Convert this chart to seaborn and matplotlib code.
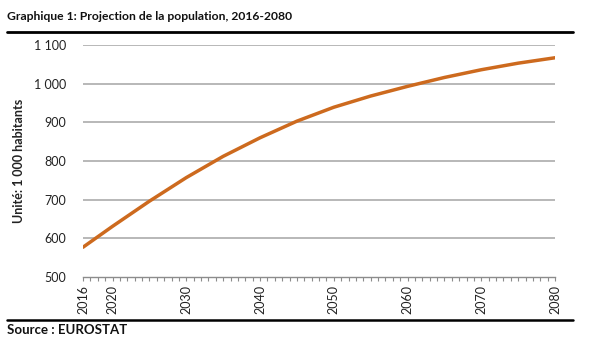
import matplotlib
matplotlib.use("Agg")
import matplotlib.pyplot as plt
import seaborn as sns
import pandas as pd
from matplotlib.lines import Line2D
from matplotlib.ticker import FuncFormatter, MultipleLocator

years = [2016, 2020, 2025, 2030, 2035, 2040, 2045, 2050, 2055, 2060, 2065, 2070, 2075, 2080]
population = [577, 631, 696, 757, 812, 860, 903, 939, 968, 993, 1016, 1036, 1053, 1067]
xtick_years = [2016, 2020, 2030, 2040, 2050, 2060, 2070, 2080]
yticks = [500, 600, 700, 800, 900, 1000, 1100]

title = "Graphique 1: Projection de la population, 2016-2080"
ylabel = "Unité: 1 000 habitants"
source = "Source : EUROSTAT"

sns.set_style("white")
plt.rcParams['font.family'] = ['Lato', 'DejaVu Sans']

df = pd.DataFrame({"year": years, "pop": population})

fig = plt.figure(figsize=(6.0, 3.54), dpi=100)
ax = fig.add_axes([83/600, 1-277/354, (555-83)/600, (277-45)/354])

for y in yticks[1:]:
    ax.axhline(y, color="#ababab", lw=1.2, zorder=1)

sns.lineplot(data=df, x="year", y="pop", ax=ax, color="#cd6a1e", lw=2.5, zorder=3)

ax.set_xlim(2016, 2080)
ax.set_ylim(500, 1100)
ax.set_yticks(yticks)
ax.yaxis.set_major_formatter(FuncFormatter(lambda v, p: f"{int(v):,}".replace(",", " ")))
ax.set_xticks(xtick_years)
ax.set_xticklabels([str(y) for y in xtick_years], rotation=90)
ax.xaxis.set_minor_locator(MultipleLocator(1))
ax.tick_params(axis="x", which="both", direction="out", length=3, width=0.8,
               color="#8c8c8c", bottom=True, labelsize=9, pad=3, labelcolor="#222222")
ax.tick_params(axis="y", which="both", length=0, labelsize=9, pad=12, labelcolor="#222222")

for s in ["top", "right", "left"]:
    ax.spines[s].set_visible(False)
ax.spines["bottom"].set_color("#8c8c8c")
ax.spines["bottom"].set_linewidth(1.0)

ax.set_xlabel("")
ax.set_ylabel(ylabel, fontsize=9, fontweight="bold", color="#222222")
ax.yaxis.set_label_coords(-0.122, 0.5)

fig.text(7/600, 1-17/354, title, fontsize=8.7, fontweight="bold", va="center", ha="left", color="#111111")
fig.text(7/600, 1-330/354, source, fontsize=9.5, fontweight="bold", va="center", ha="left", color="#111111")
fig.add_artist(Line2D([7/600, 573/600], [1-32/354, 1-32/354], color="black", lw=2.0, transform=fig.transFigure))
fig.add_artist(Line2D([7/600, 573/600], [1-320/354, 1-320/354], color="black", lw=1.8, transform=fig.transFigure))

fig.savefig("out.png", dpi=100)
